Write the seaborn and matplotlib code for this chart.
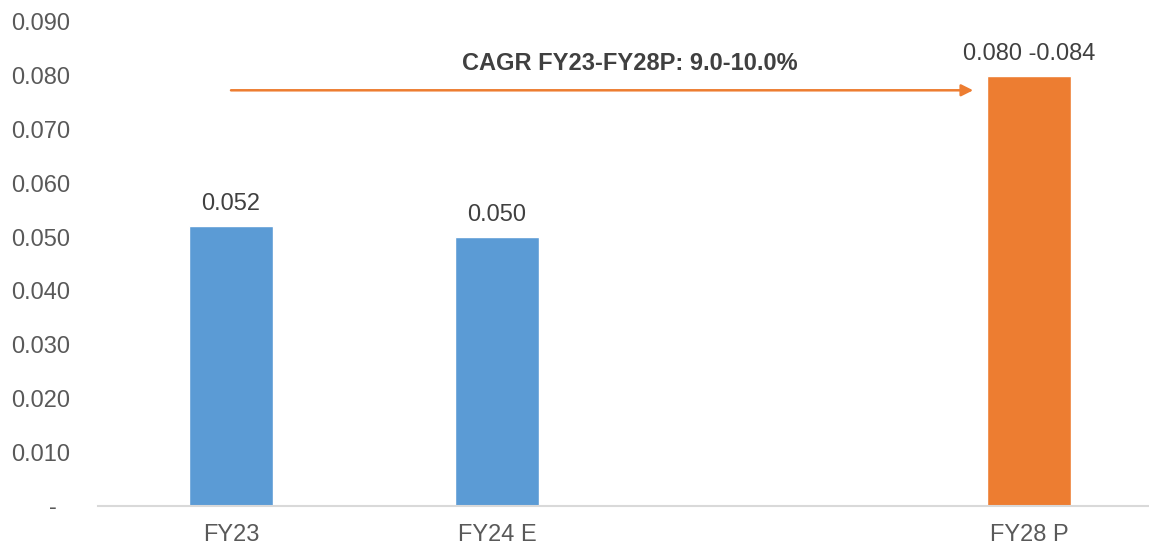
import matplotlib
matplotlib.use("Agg")
import matplotlib.pyplot as plt
import numpy as np
import pandas as pd
import seaborn as sns

# chart data
categories = ["FY23", "FY24 E", " ", "FY28 P"]
values = [0.052, 0.050, np.nan, 0.080]
value_labels = ["0.052", "0.050", "", "0.080 -0.084"]
bar_colors = ["#5B9BD5", "#5B9BD5", "#5B9BD5", "#ED7D31"]
yticks = [0.0, 0.01, 0.02, 0.03, 0.04, 0.05, 0.06, 0.07, 0.08, 0.09]
cagr_text = "CAGR FY23-FY28P: 9.0-10.0%"

sns.set_style("white")
plt.rcParams["font.family"] = ["Liberation Sans", "DejaVu Sans"]

df = pd.DataFrame({"cat": categories, "val": values})

fig = plt.figure(figsize=(11.49, 5.46), dpi=100)
W, H = 1149, 546
ax = fig.add_axes([98 / W, (H - 506) / H, (W - 98) / W, (506 - 22) / H])

sns.barplot(data=df, x="cat", y="val", hue="cat", order=categories,
            palette=dict(zip(categories, bar_colors)), width=0.316,
            legend=False, ax=ax, saturation=1)

ax.set_xlim(-0.5, 3.451)
ax.set_ylim(0, 0.09)
ax.set_yticks(yticks)
ax.set_yticklabels(["-  "] + [f"{t:.3f}" for t in yticks[1:]])
ax.set_xlabel("")
ax.set_ylabel("")
ax.tick_params(axis="y", length=0, pad=20, labelsize=17, labelcolor="#595959")
ax.tick_params(axis="x", length=0, pad=13, labelsize=17, labelcolor="#595959")

for s in ["top", "right", "left"]:
    ax.spines[s].set_visible(False)
ax.spines["bottom"].set_color("#D9D9D9")
ax.spines["bottom"].set_linewidth(1.5)

# value labels
for i, (v, lab) in enumerate(zip(values, value_labels)):
    if lab:
        ax.annotate(lab, (i, v), xytext=(0, 16), textcoords="offset points",
                    ha="center", va="center", fontsize=17, color="#404040")

# CAGR arrow
ax.annotate("", xy=(2.79, 0.0773), xytext=(0.0, 0.0773),
            arrowprops=dict(arrowstyle="-|>,head_length=0.7,head_width=0.35",
                            color="#ED7D31", lw=1.8, shrinkA=0, shrinkB=0))
ax.text(1.5, 0.0823, cagr_text, ha="center", va="center", fontsize=17,
        fontweight="bold", color="#404040")

fig.savefig("out.png", dpi=100)
